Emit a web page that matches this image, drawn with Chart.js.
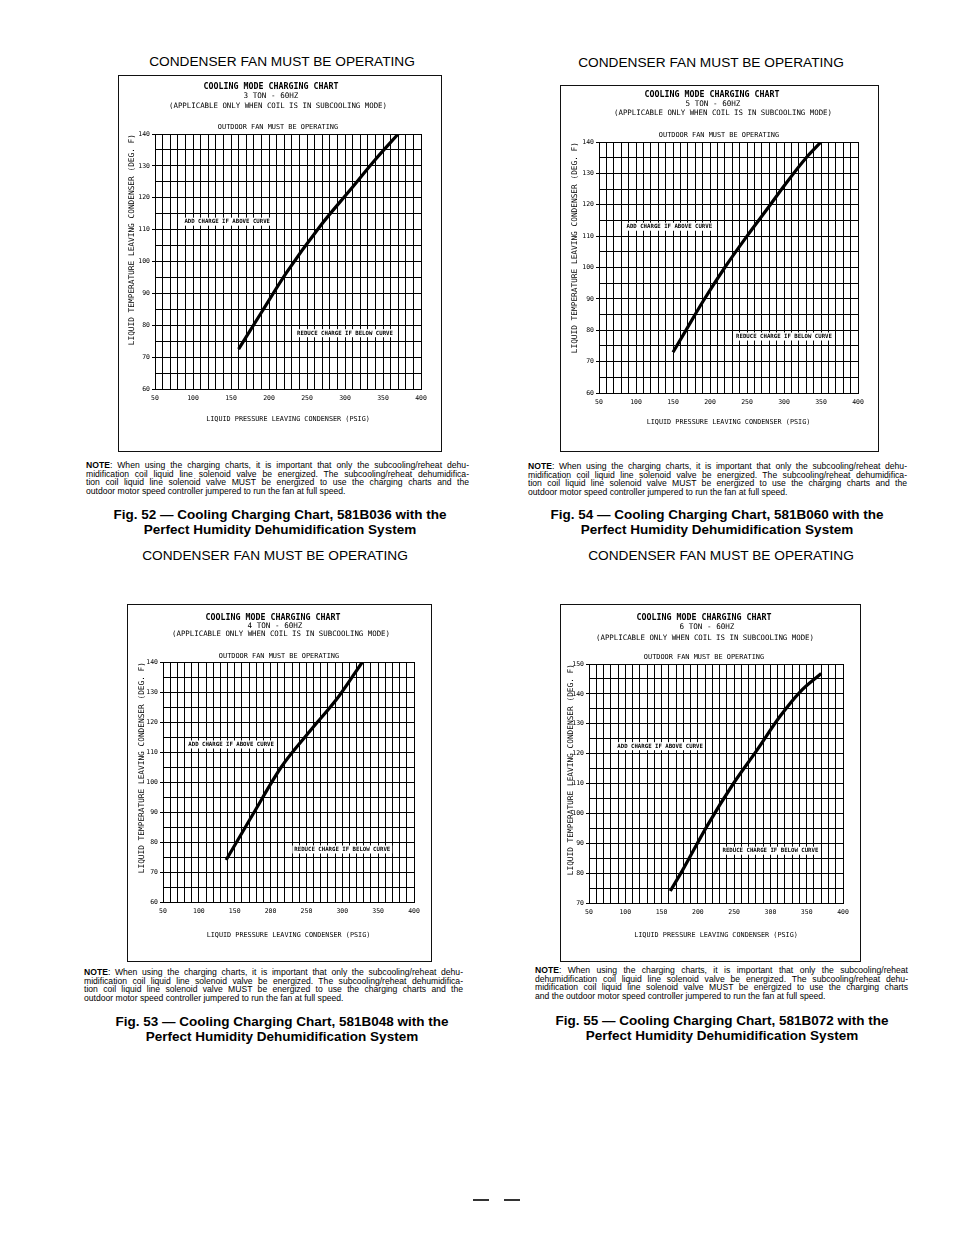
<!DOCTYPE html>
<html>
<head>
<meta charset="utf-8">
<title>Cooling Charging Charts</title>
<script src="https://cdn.jsdelivr.net/npm/chart.js@4.4.0/dist/chart.umd.min.js"></script>
<style>
body { margin: 0; background: #fff; }
#page { position: relative; width: 954px; height: 1235px; overflow: hidden; font-family: "Liberation Sans", Arial, sans-serif; color: #000; }
.hdr { position: absolute; font-size: 13.7px; line-height: 16px; white-space: nowrap; transform: translateX(-50%); }
.box { position: absolute; border: 1px solid #111; }
.box canvas { display: block; }
.note { position: absolute; font-size: 8.6px; line-height: 8.5px; }
.note div { height: 8.5px; text-align: justify; text-align-last: justify; }
.note div.last { text-align-last: left; }
.cap { position: absolute; font-weight: bold; font-size: 13.5px; line-height: 15px; text-align: center; white-space: nowrap; transform: translateX(-50%); }
.dash { position: absolute; top: 1199px; height: 2px; width: 16px; background: #333; }
</style>
</head>
<body>
<div id="page">

<div class="hdr" style="left:282px; top:54px;">CONDENSER FAN MUST BE OPERATING</div>
<div class="hdr" style="left:711px; top:55px;">CONDENSER FAN MUST BE OPERATING</div>
<div class="hdr" style="left:275px; top:548px;">CONDENSER FAN MUST BE OPERATING</div>
<div class="hdr" style="left:721px; top:548px;">CONDENSER FAN MUST BE OPERATING</div>

<div class="box" style="left:118px; top:75px;"><canvas id="c036" width="322" height="375"></canvas></div>
<div class="box" style="left:560px; top:85px;"><canvas id="c060" width="317" height="365"></canvas></div>
<div class="box" style="left:127px; top:604px;"><canvas id="c048" width="303" height="356"></canvas></div>
<div class="box" style="left:560px; top:604px;"><canvas id="c072" width="299" height="356"></canvas></div>

<div class="note" style="left:86px; top:461px; width:383px;">
<div><b>NOTE</b>: When using the charging charts, it is important that only the subcooling/reheat dehu-</div>
<div>midification coil liquid line solenoid valve be energized. The subcooling/reheat dehumidifica-</div>
<div>tion coil liquid line solenoid valve MUST be energized to use the charging charts and the</div>
<div class="last">outdoor motor speed controller jumpered to run the fan at full speed.</div>
</div>
<div class="note" style="left:528px; top:462px; width:379px;">
<div><b>NOTE</b>: When using the charging charts, it is important that only the subcooling/reheat dehu-</div>
<div>midification coil liquid line solenoid valve be energized. The subcooling/reheat dehumidifica-</div>
<div>tion coil liquid line solenoid valve MUST be energized to use the charging charts and the</div>
<div class="last">outdoor motor speed controller jumpered to run the fan at full speed.</div>
</div>
<div class="note" style="left:84px; top:968px; width:379px;">
<div><b>NOTE</b>: When using the charging charts, it is important that only the subcooling/reheat dehu-</div>
<div>midification coil liquid line solenoid valve be energized. The subcooling/reheat dehumidifica-</div>
<div>tion coil liquid line solenoid valve MUST be energized to use the charging charts and the</div>
<div class="last">outdoor motor speed controller jumpered to run the fan at full speed.</div>
</div>
<div class="note" style="left:535px; top:966px; width:373px;">
<div><b>NOTE</b>: When using the charging charts, it is important that only the subcooling/reheat</div>
<div>dehumidification coil liquid line solenoid valve be energized. The subcooling/reheat dehu-</div>
<div>midification coil liquid line solenoid valve MUST be energized to use the charging charts</div>
<div class="last">and the outdoor motor speed controller jumpered to run the fan at full speed.</div>
</div>

<div class="cap" style="left:280px; top:507px;">Fig. 52 — Cooling Charging Chart, 581B036 with the<br>Perfect Humidity Dehumidification System</div>
<div class="cap" style="left:717px; top:507px;">Fig. 54 — Cooling Charging Chart, 581B060 with the<br>Perfect Humidity Dehumidification System</div>
<div class="cap" style="left:282px; top:1014px;">Fig. 53 — Cooling Charging Chart, 581B048 with the<br>Perfect Humidity Dehumidification System</div>
<div class="cap" style="left:722px; top:1013px;">Fig. 55 — Cooling Charging Chart, 581B072 with the<br>Perfect Humidity Dehumidification System</div>

<div class="dash" style="left:473px;"></div>
<div class="dash" style="left:504px;"></div>

</div>
<script>
//刻度
var xTickLabels = [50, 100, 150, 200, 250, 300, 350, 400];
var yTickLabels140 = [60, 70, 80, 90, 100, 110, 120, 130, 140];
var yTickLabels150 = [70, 80, 90, 100, 110, 120, 130, 140, 150];

//3 TON - 581B036 (psig / deg F)
var psi036 = [160, 190, 223, 267, 307, 340, 370];
var temp036 = [72.5, 84, 96.5, 111, 122.5, 132, 140];

//5 TON - 581B060
var psi060 = [150, 170, 190, 220, 250, 280, 300, 330, 350];
var temp060 = [73, 81, 89, 100, 110, 119.5, 126, 135, 140];

//4 TON - 581B048
var psi048 = [138, 176, 215, 255, 295, 328];
var temp048 = [74, 89.5, 105, 117, 128.5, 140];

//6 TON - 581B072
var psi072 = [162, 179, 212, 249, 281, 313, 341, 370];
var temp072 = [74, 81, 95.5, 110, 121, 132.4, 140.7, 146.8];

var MONO = "'DejaVu Sans Mono', monospace";
var Y_TITLE_SIZE = 7.8;
var X_TITLE_SIZE = 6.8;

drawChart('c036', psi036, temp036, yTickLabels140, '3 TON - 60HZ', {
    left: 36, right: 302, top: 58, bottom: 313, yTitleX: 13, xTitleY: 343,
    title: [152, 11], sub: [152, 20], appl: [159, 30], fan: [159, 51],
    add: [145, 112.5], reduce: [300, 77.5]
});
drawChart('c060', psi060, temp060, yTickLabels140, '5 TON - 60HZ', {
    left: 38, right: 297, top: 56, bottom: 307, yTitleX: 14, xTitleY: 336,
    title: [151, 9], sub: [152, 18], appl: [162, 27], fan: [158, 49],
    add: [145, 113], reduce: [300, 78]
});
drawChart('c048', psi048, temp048, yTickLabels140, '4 TON - 60HZ', {
    left: 35, right: 286, top: 57, bottom: 297, yTitleX: 14, xTitleY: 330,
    title: [145, 13], sub: [147, 21], appl: [153, 29], fan: [151, 51],
    add: [145, 112.5], reduce: [300, 77.5]
});
drawChart('c072', psi072, temp072, yTickLabels150, '6 TON - 60HZ', {
    left: 28, right: 282, top: 59, bottom: 298, yTitleX: 10, xTitleY: 330,
    title: [143, 13], sub: [146, 22], appl: [144, 33], fan: [143, 52],
    add: [148, 122.5], reduce: [300, 87.5]
});

//文字 (titles inside the box + notes on the grid)
function textPlugin(p, sub) {
    return {
        id: 'panelText',
        afterDraw: function(chart) {
            var ctx = chart.ctx;
            ctx.save();
            ctx.fillStyle = '#000';
            ctx.textAlign = 'center';
            ctx.textBaseline = 'middle';
            ctx.font = 'bold 8.3px ' + MONO;
            ctx.fillText('COOLING MODE CHARGING CHART', p.title[0], p.title[1]);
            ctx.font = '7.6px ' + MONO;
            ctx.fillText(sub, p.sub[0], p.sub[1]);
            ctx.font = '7.4px ' + MONO;
            ctx.fillText('(APPLICABLE ONLY WHEN COIL IS IN SUBCOOLING MODE)', p.appl[0], p.appl[1]);
            ctx.font = '6.9px ' + MONO;
            ctx.fillText('OUTDOOR FAN MUST BE OPERATING', p.fan[0], p.fan[1]);

            ctx.font = 'bold 5.7px ' + MONO;
            [['ADD CHARGE IF ABOVE CURVE', p.add], ['REDUCE CHARGE IF BELOW CURVE', p.reduce]].forEach(function(n) {
                var x = chart.scales.x.getPixelForValue(n[1][0]);
                var y = chart.scales.y.getPixelForValue(n[1][1]);
                var w = ctx.measureText(n[0]).width;
                ctx.fillStyle = '#fff';
                ctx.fillRect(x - w / 2 - 2, y - 4, w + 4, 8);
                ctx.fillStyle = '#000';
                ctx.fillText(n[0], x, y);
            });
            ctx.restore();
        }
    };
}

//繪製圖表
function drawChart(id, psi, temp, yTicks, sub, p) {
    var canvas = document.getElementById(id);
    var w = canvas.width;
    var h = canvas.height;
    var padLeft = p.yTitleX - Y_TITLE_SIZE * 1.2 / 2;
    var padBottom = h - p.xTitleY - X_TITLE_SIZE * 1.2 / 2;
    var tickFont = {family: MONO, size: 6.5};

    var points = [];
    for (var i = 0; i < psi.length; i++)
        points.push({x: psi[i], y: temp[i]});

    return new Chart(canvas.getContext('2d'), {
        type: 'scatter',
        data: {
            datasets: [{
                data: points,
                showLine: true,
                borderColor: '#000',
                borderWidth: 3.2,
                pointRadius: 0,
                cubicInterpolationMode: 'monotone',
                fill: false
            }]
        },
        options: {
            responsive: false,
            animation: false,
            layout: {
                padding: {left: padLeft, right: w - p.right, top: p.top, bottom: padBottom}
            },
            plugins: {
                legend: {display: false},
                tooltip: {enabled: false}
            },
            scales: {
                x: {
                    type: 'linear',
                    min: xTickLabels[0],
                    max: xTickLabels[xTickLabels.length - 1],
                    ticks: {
                        stepSize: 10,
                        autoSkip: false,
                        maxRotation: 0,
                        padding: 2,
                        color: '#000',
                        font: tickFont,
                        callback: function(v) { return xTickLabels.indexOf(v) >= 0 ? String(v) : ''; }
                    },
                    grid: {color: '#000', lineWidth: 1, tickLength: 3, tickColor: 'rgba(0,0,0,0)'},
                    border: {color: '#000', width: 1},
                    title: {
                        display: true,
                        text: 'LIQUID PRESSURE LEAVING CONDENSER (PSIG)',
                        color: '#000',
                        padding: 0,
                        font: {family: MONO, size: X_TITLE_SIZE}
                    },
                    afterFit: function(s) { s.height = h - padBottom - p.bottom; }
                },
                y: {
                    type: 'linear',
                    min: yTicks[0],
                    max: yTicks[yTicks.length - 1],
                    ticks: {
                        stepSize: 5,
                        autoSkip: false,
                        padding: 2,
                        color: '#000',
                        font: tickFont,
                        callback: function(v) { return yTicks.indexOf(v) >= 0 ? String(v) : ''; }
                    },
                    grid: {
                        color: '#000',
                        lineWidth: 1,
                        tickLength: 3,
                        tickColor: function(c) { return c.tick && c.tick.value % 10 === 0 ? '#000' : 'rgba(0,0,0,0)'; }
                    },
                    border: {color: '#000', width: 1},
                    title: {
                        display: true,
                        text: 'LIQUID TEMPERATURE LEAVING CONDENSER (DEG. F)',
                        align: 'end',
                        color: '#000',
                        padding: 0,
                        font: {family: MONO, size: Y_TITLE_SIZE}
                    },
                    afterFit: function(s) { s.width = p.left - padLeft; }
                }
            }
        },
        plugins: [textPlugin(p, sub)]
    });
}
</script>
</body>
</html>
